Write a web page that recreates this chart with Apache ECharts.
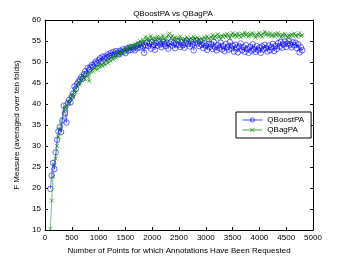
<!DOCTYPE html>
<html><head><meta charset="utf-8">
<script src="https://cdn.jsdelivr.net/npm/echarts@6/dist/echarts.min.js"></script>
<style>html,body{margin:0;padding:0;background:#fff}#c{width:346px;height:260px}</style>
</head><body><div id="c"></div>
<script>
var xStart = 100, xStep = 25;
var qboost = [
19.8, 23.0, 26.0, 24.5, 28.5, 31.5, 33.5, 34.5, 33.3, 36.1,
39.6, 37.8, 35.6, 40.2, 41.0, 40.4, 41.8, 42.5, 44.2, 43.6,
44.8, 45.3, 45.8, 46.4, 46.0, 47.1, 47.8, 47.2, 48.6, 48.2,
48.8, 49.3, 48.9, 49.6, 50.1, 49.7, 50.4, 50.9, 50.1, 51.3,
50.8, 51.3, 51.0, 51.8, 51.4, 52.1, 51.6, 52.4, 51.9, 52.6,
52.2, 51.8, 52.7, 52.3, 53.0, 52.5, 52.1, 53.2, 52.7, 53.4,
52.9, 53.6, 53.2, 52.8, 53.8, 53.3, 54.1, 53.5, 54.3, 53.7,
52.2, 54.0, 54.6, 53.8, 54.4, 53.2, 54.8, 54.1, 52.9, 54.5,
53.9, 54.7, 54.2, 53.5, 54.9, 54.3, 53.8, 54.6, 53.2, 54.4,
54.8, 53.9, 54.5, 53.3, 54.2, 55.0, 54.1, 53.6, 54.7, 54.0,
53.4, 54.6, 55.1, 54.3, 53.7, 54.9, 54.2, 52.8, 54.6, 55.2,
54.4, 53.8, 55.0, 54.1, 53.3, 54.5, 53.9, 52.9, 54.3, 53.6,
54.2, 53.1, 54.8, 53.5, 52.8, 54.0, 53.4, 54.6, 53.0, 53.8,
52.6, 54.3, 53.5, 52.9, 54.7, 53.2, 53.9, 52.5, 54.1, 53.4,
52.3, 53.7, 54.4, 52.8, 53.5, 52.4, 54.0, 53.1, 52.2, 53.6,
52.7, 54.2, 53.0, 52.4, 53.8, 52.9, 53.4, 52.2, 53.7, 53.0,
54.1, 53.3, 52.5, 53.9, 52.8, 53.5, 54.3, 52.6, 53.8, 53.1,
54.5, 53.7, 54.8, 53.4, 54.2, 54.9, 53.6, 54.4, 55.0, 54.1,
53.5, 54.7, 54.0, 54.6, 53.3, 54.2, 52.3, 53.5, 52.8
];
var qbag = [
10.3, 17.0, 22.7, 25.5, 27.0, 30.0, 32.2, 34.0, 35.2, 36.5,
38.2, 39.5, 38.8, 40.6, 40.2, 41.5, 42.3, 41.6, 43.4, 42.8,
44.3, 45.2, 44.6, 45.8, 47.0, 46.1, 45.9, 46.6, 47.3, 45.4,
47.6, 48.1, 47.7, 48.5, 48.9, 48.2, 49.3, 48.7, 49.5, 49.0,
49.8, 49.3, 50.4, 49.7, 50.8, 50.2, 51.3, 50.6, 51.7, 51.0,
51.7, 52.3, 51.6, 52.7, 52.1, 52.9, 53.4, 52.6, 53.3, 53.8,
53.2, 53.9, 53.5, 54.3, 53.8, 54.6, 54.1, 55.0, 54.4, 55.3,
54.8, 56.0, 55.2, 55.7, 55.1, 56.2, 55.5, 54.9, 55.8, 55.3,
56.0, 55.4, 55.9, 55.2, 56.3, 55.6, 55.0, 55.9, 56.5, 56.8,
55.7, 56.2, 55.4, 55.9, 55.1, 55.8, 55.3, 56.1, 55.5, 55.0,
55.6, 55.2, 55.9, 55.4, 55.0, 55.7, 55.3, 56.0, 55.5, 55.1,
55.8, 55.3, 55.0, 55.6, 55.2, 55.9, 55.4, 56.1, 55.6, 55.2,
55.9, 56.4, 55.6, 56.2, 55.8, 56.6, 56.0, 55.5, 56.3, 55.9,
56.5, 56.0, 56.7, 56.2, 55.7, 56.4, 56.9, 56.1, 56.6, 56.0,
56.8, 56.3, 55.9, 56.7, 56.2, 57.0, 56.4, 56.8, 56.1, 56.6,
56.3, 56.9, 56.5, 55.8, 56.6, 56.2, 56.9, 56.4, 56.0, 56.7,
57.2, 56.5, 56.9, 56.3, 56.8, 56.2, 56.6, 56.1, 56.7, 56.3,
56.9, 56.4, 55.9, 56.5, 56.1, 56.7, 56.3, 55.8, 56.4, 56.0,
56.6, 56.2, 56.8, 56.3, 56.0, 56.5, 56.9, 56.2, 56.4
];
var seriesNames = ['QBoostPA', 'QBagPA'];
var titleText = 'QBoostPA vs QBagPA';
var xName = 'Number of Points for which Annotations Have Been Requested';
var yName = 'F Measure (averaged over ten folds)';

function pairs(arr){ return arr.map(function(v,i){ return [xStart + xStep*i, v]; }); }

var FONT = 'Liberation Sans';
var blue = '#0000ff', green = '#008000';
var clear = 'rgba(255,255,255,0)';
var crossPath = 'path://M0,0L10,10M10,0L0,10';
var chart = echarts.init(document.getElementById('c'), null, {renderer:'canvas'});
var axisCommon = {
  axisLine:{show:true, onZero:false, lineStyle:{color:'#000', width:1}},
  axisTick:{show:true, inside:true, length:3, lineStyle:{color:'#000'}},
  splitLine:{show:false}
};
var plain = function(v){ return String(v); };
chart.setOption({
  animation:false,
  backgroundColor:'#fff',
  title:{text:titleText, left:'center', top:5, textStyle:{fontFamily:FONT, fontSize:8, fontWeight:'normal', color:'#000'}},
  grid:{left:45, right:33, top:20, bottom:29, containLabel:false},
  legend:{
    orient:'vertical', left:236, top:112, itemWidth:20, itemHeight:5, itemGap:2,
    padding:[4,7,4,6], borderColor:'#000', borderWidth:1, backgroundColor:'#fff',
    textStyle:{fontFamily:FONT, fontSize:8, color:'#000'},
    data:[
      {name:seriesNames[0], itemStyle:{color:clear, borderColor:blue, borderWidth:0.7}, lineStyle:{color:blue, width:0.7}},
      {name:seriesNames[1], itemStyle:{color:clear, borderColor:green, borderWidth:0.7}, lineStyle:{color:green, width:0.7}}
    ]
  },
  xAxis:[
    Object.assign({type:'value', min:0, max:5000, interval:500, position:'bottom',
      name:xName, nameLocation:'middle', nameGap:11,
      nameTextStyle:{fontFamily:FONT, fontSize:8, color:'#000'},
      axisLabel:{fontFamily:FONT, fontSize:8, color:'#000', margin:4, formatter:plain}}, axisCommon),
    Object.assign({type:'value', min:0, max:5000, interval:500, position:'top', axisLabel:{show:false}}, axisCommon)
  ],
  yAxis:[
    Object.assign({type:'value', min:10, max:60, interval:5, position:'left',
      name:yName, nameLocation:'middle', nameGap:17, nameRotate:90,
      nameTextStyle:{fontFamily:FONT, fontSize:8, color:'#000'},
      axisLabel:{fontFamily:FONT, fontSize:8, color:'#000', margin:4, formatter:plain}}, axisCommon),
    Object.assign({type:'value', min:10, max:60, interval:5, position:'right', axisLabel:{show:false}}, axisCommon)
  ],
  series:[
    {name:seriesNames[0], type:'line', xAxisIndex:0, yAxisIndex:0, data:pairs(qboost),
     symbol:'circle', symbolSize:5.5, showAllSymbol:true,
     itemStyle:{color:clear, borderColor:blue, borderWidth:0.6, opacity:1},
     lineStyle:{color:blue, width:0.5}, z:2},
    {name:seriesNames[1], type:'line', xAxisIndex:0, yAxisIndex:0, data:pairs(qbag),
     symbol:crossPath, symbolSize:4, showAllSymbol:true,
     itemStyle:{color:clear, borderColor:green, borderWidth:0.6},
     lineStyle:{color:green, width:0.5}, z:3}
  ]
});
</script></body></html>
